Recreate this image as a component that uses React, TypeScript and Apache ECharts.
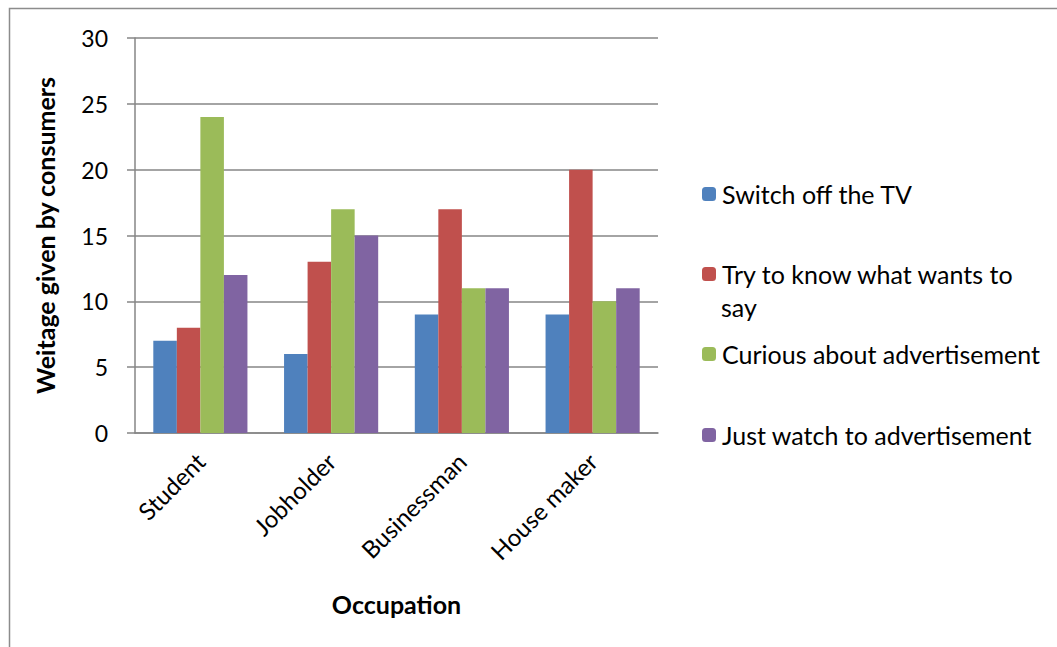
import React, { useEffect, useRef } from "react";
import * as echarts from "echarts";

const categories = ["Student", "Jobholder", "Businessman", "House maker"];
const seriesNames = [
  "Switch off the TV",
  "Try to know what wants to say",
  "Curious about advertisement",
  "Just watch to advertisement",
];
const switchOff = [7, 6, 9, 9];
const tryToKnow = [8, 13, 17, 20];
const curious = [24, 17, 11, 10];
const justWatch = [12, 15, 11, 11];
const yTicks = { min: 0, max: 30, interval: 5 };
const colors = ["#4F81BD", "#C0504D", "#9BBB59", "#8064A2"];

const FONT = "Lato";

export default function App() {
  const ref = useRef<HTMLDivElement>(null);
  useEffect(() => {
    if (!ref.current) return;
    const chart = echarts.init(ref.current, null, { renderer: "svg" });
    const values = [switchOff, tryToKnow, curious, justWatch];
    const legendCenters = [194, 274, 354, 435];
    const legends = seriesNames.map((n, i) => ({
      data: [n],
      orient: "vertical",
      left: 697,
      top: legendCenters[i] - 18,
      itemWidth: 14,
      itemHeight: 14,
      itemGap: 0,
      selectedMode: false,
      formatter: (name: string) =>
        name === "Try to know what wants to say" ? "Try to know what wants to" : name,
      textStyle: { fontFamily: FONT, fontSize: 25, color: "#000", lineHeight: 26, padding: [0, 0, 0, 1] },
    }));
    chart.setOption({
      animation: false,
      backgroundColor: "#fff",
      color: colors,
      grid: { left: 135, top: 38, width: 523, height: 395, containLabel: false },
      legend: legends,
      graphic: [
        {
          type: "rect",
          silent: true,
          shape: { x: 9.5, y: 8.5, width: 1200, height: 800 },
          style: { fill: "none", stroke: "#8c8c8c", lineWidth: 1.5 },
          z: -10,
        },
        {
          type: "text",
          left: 721,
          top: 294,
          style: { text: "say", fontFamily: FONT, fontSize: 25, fill: "#000" },
        },
      ],
      xAxis: {
        type: "category",
        data: categories,
        name: "Occupation",
        nameLocation: "middle",
        nameGap: 158,
        nameTextStyle: { fontFamily: FONT, fontSize: 25, fontWeight: "bold", color: "#000", verticalAlign: "top" },
        axisLine: { lineStyle: { color: "#868686", width: 1.5 } },
        axisTick: { show: false },
        axisLabel: { rotate: 45, margin: 24, fontFamily: FONT, fontSize: 24, color: "#000", interval: 0 },
      },
      yAxis: {
        type: "value",
        min: yTicks.min,
        max: yTicks.max,
        interval: yTicks.interval,
        name: "Weitage given by consumers",
        nameLocation: "middle",
        nameGap: 78,
        nameTextStyle: { fontFamily: FONT, fontSize: 25, fontWeight: "bold", color: "#000" },
        axisLine: { show: true, lineStyle: { color: "#868686", width: 1.5 } },
        axisTick: { show: true, length: 8, lineStyle: { color: "#868686", width: 1.5 } },
        splitLine: { lineStyle: { color: "#868686", width: 1.5 } },
        axisLabel: { fontFamily: FONT, fontSize: 23, color: "#000", margin: 27 },
      },
      series: seriesNames.map((n, i) => ({
        name: n,
        type: "bar",
        data: values[i],
        barGap: "0%",
        barCategoryGap: "28%",
        itemStyle: { color: colors[i] },
      })),
    });
    return () => chart.dispose();
  }, []);
  return (
    <div
      ref={ref}
      style={{ position: "fixed", left: 0, top: 0, width: 1057, height: 647 }}
    />
  );
}
